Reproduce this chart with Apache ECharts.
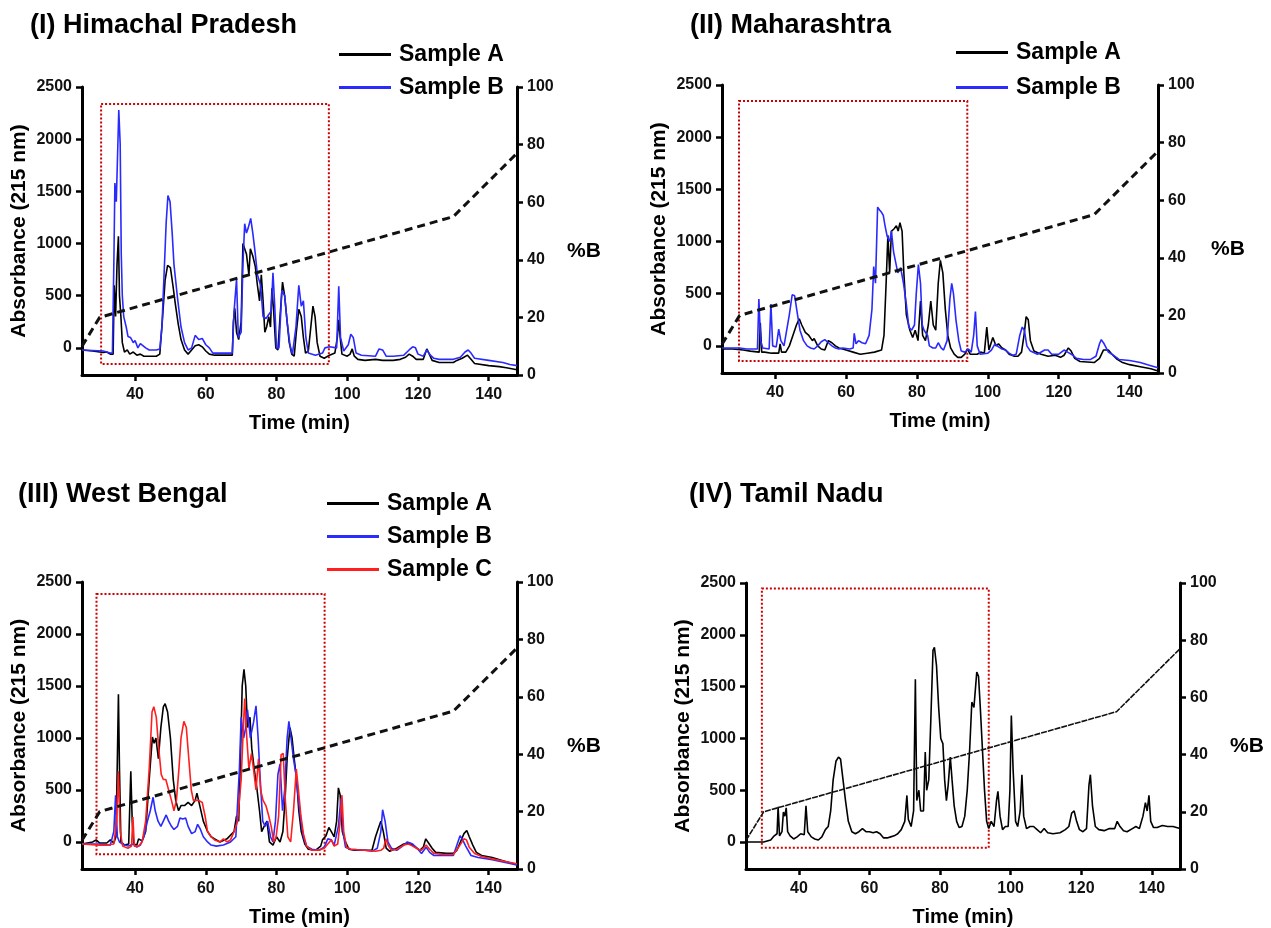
<!DOCTYPE html>
<html><head><meta charset="utf-8">
<script src="https://cdn.jsdelivr.net/npm/echarts@6/dist/echarts.min.js"></script>
<style>html,body{margin:0;padding:0;background:#fff}#c{width:1271px;height:928px}</style>
</head><body><div id="c"></div>
<script>
// ---- tick labels / axis settings ----
const xTicks = [40, 60, 80, 100, 120, 140];
const absTicks = [0, 500, 1000, 1500, 2000, 2500];
const pctTicks = [0, 20, 40, 60, 80, 100];
const panelTitles = ['(I) Himachal Pradesh', '(II) Maharashtra', '(III) West Bengal', '(IV) Tamil Nadu'];

// ---- gradient (%B) program: [time, %B] ----
const gradient = [[25, 10], [30, 20], [130, 55], [148, 77]];

// ---- highlighted region boxes: [tStart, tEnd, absLow, absHigh] ----
const boxI = [30.4, 94.8, -155, 2337];
const boxII = [29.8, 94.2, -145, 2347];
const boxIII = [29.1, 93.6, -118, 2385];
const boxIV = [29.5, 93.8, -55, 2446];

// ---- (I) Himachal Pradesh ----
const hpA = [[25,-20],[28,-30],[30,-40],[31,-45],[32,-40],[33,-60],[33.8,-60],[34.1,600],[34.5,300],[34.9,800],[35.3,1070],[35.6,500],[36,300],[36.4,50],[37,-40],[37.8,-20],[38.5,-60],[39.5,-40],[40.5,-70],[41.5,-60],[42.5,-80],[44,-80],[46,-80],[47,-60],[47.8,300],[48.5,650],[49.2,790],[50,770],[50.7,600],[51.4,420],[52.2,230],[53,80],[54,-20],[55,-60],[56,-20],[57,20],[58,30],[59,10],[60,-30],[61,-60],[62.5,-70],[65,-70],[67.5,-70],[67.8,250],[68.2,380],[68.7,150],[69.3,80],[70,250],[70.5,1000],[71,950],[71.5,900],[72.2,700],[72.6,950],[73.3,880],[74,780],[74.6,600],[75.2,450],[75.7,700],[76.2,450],[76.7,150],[77.2,200],[77.8,300],[78.3,200],[78.7,570],[79.2,350],[79.8,0],[80.4,-20],[81,300],[81.7,630],[82.3,500],[83,250],[83.6,50],[84.3,-60],[85,-80],[85.6,150],[86.3,370],[87,300],[87.6,100],[88.2,-50],[89,-30],[89.7,200],[90.3,400],[90.9,300],[91.5,50],[92.3,-80],[93.5,-100],[95,-70],[96.5,-50],[97.2,100],[97.6,270],[98,100],[98.5,-60],[100,-80],[100.8,-60],[101.4,-10],[102,-80],[103,-110],[105,-120],[108,-110],[110,-120],[113,-120],[115,-110],[116.5,-90],[117.5,-60],[118.5,-80],[119.5,-110],[121.5,-110],[122.5,-10],[123.2,-60],[124,-120],[126,-140],[130,-140],[131,-120],[132.5,-100],[134,-70],[135,-110],[136,-150],[140,-170],[143,-180],[145,-190],[148,-210]];
const hpB = [[25,-20],[28,-25],[31,-30],[32,-40],[33,-50],[33.6,-50],[34,800],[34.3,1580],[34.7,1400],[35.1,1900],[35.4,2280],[35.8,1950],[36.1,900],[36.4,500],[36.8,300],[37.5,200],[38,110],[38.7,100],[39.5,50],[40,70],[40.8,0],[41.5,40],[42,50],[43,0],[44,-20],[46,-20],[47,-10],[47.6,200],[48.2,700],[48.8,1200],[49.3,1460],[49.9,1400],[50.5,1100],[51,800],[52,480],[53,200],[54,50],[55,-20],[56,0],[57,120],[58,80],[59,90],[60,30],[61,0],[62,-50],[64,-50],[67.5,-50],[68,350],[68.7,660],[69.2,100],[70,150],[70.5,800],[71,1190],[71.5,1100],[72,1150],[72.7,1240],[73.3,1100],[74,900],[74.6,700],[75.5,600],[76.2,300],[77,280],[77.8,320],[78.5,350],[79,720],[79.5,400],[80,0],[80.7,0],[81.5,550],[82.3,500],[83,250],[83.8,30],[84.5,-60],[85.5,200],[86.3,600],[87,400],[87.6,450],[88.3,100],[89,-50],[91,-70],[93,-50],[93.7,0],[95,10],[97,0],[97.6,590],[98.1,100],[99,-30],[100.3,30],[101,130],[101.7,100],[102.5,-50],[104,-70],[108,-80],[109,-10],[110,-20],[111,-80],[113,-80],[116,-70],[117.5,-20],[118.5,10],[119.3,0],[120,-60],[121.5,-80],[122.5,-20],[123.5,-70],[124.5,-100],[126,-110],[130,-110],[132,-90],[133.3,-40],[134.2,-20],[135,-50],[136,-100],[140,-120],[144,-140],[146,-160],[148,-170]];

// ---- (II) Maharashtra ----
const mhA = [[25,-30],[28,-30],[31,-40],[33,-50],[35.5,-60],[35.8,220],[36.2,-60],[37,-60],[39,-70],[41,-70],[41.4,20],[41.8,-60],[43,-60],[44,0],[45,100],[46,200],[46.8,260],[47.5,200],[48.5,130],[49.5,100],[50.5,50],[51,70],[52,0],[53,-30],[54,-40],[55,50],[56,30],[57,0],[58,-20],[60,-40],[62,-60],[64,-80],[66,-70],[68,-60],[70,-40],[70.7,100],[71.3,600],[71.8,1060],[72.3,700],[72.8,1100],[73.5,1120],[74.2,1150],[74.7,1100],[75.2,1180],[75.8,1100],[76.3,700],[77,300],[78,150],[78.8,80],[79.5,150],[80.3,50],[81,430],[81.6,100],[82.4,50],[83.2,200],[83.9,430],[84.6,200],[85.3,150],[86,600],[86.6,820],[87.3,700],[88,350],[88.7,100],[89.5,-20],[90.5,-80],[91.5,-110],[92.5,-110],[93.5,-80],[94.3,-30],[95,-80],[97,-80],[98,-60],[99,-70],[99.7,180],[100.3,-40],[101.4,80],[102.3,0],[103,20],[104,-20],[105,-40],[106,-80],[107.5,-100],[108.5,-100],[109.5,-60],[110.2,100],[110.8,280],[111.4,250],[112,50],[113,-50],[115,-80],[117,-100],[119,-90],[120.5,-110],[121.5,-90],[122.7,-20],[123.5,-50],[124.5,-120],[126,-150],[130,-160],[131.5,-120],[132.6,-40],[134,-40],[135,-80],[136.5,-130],[138,-160],[140,-180],[143,-200],[146,-220],[148,-240]];
const mhB = [[25,-20],[30,-20],[32,-30],[35,-30],[35.4,450],[35.9,50],[36.5,-20],[38.3,-30],[38.8,400],[39.3,0],[40.3,-10],[41,160],[41.6,50],[42.5,0],[43,100],[44,300],[44.8,490],[45.5,480],[46.3,300],[47,150],[48,50],[49,0],[50,-20],[51,-30],[52,0],[53,40],[54,60],[55,30],[56,0],[57,-20],[58,-30],[59,-20],[61,-30],[62,-20],[62.3,120],[62.8,20],[63.5,50],[64.5,30],[65.5,20],[66.5,100],[67.3,350],[67.8,760],[68.3,600],[68.9,1330],[69.5,1300],[70,1280],[70.5,1250],[71,1150],[71.6,1050],[72.3,1000],[72.8,1100],[73.4,900],[74,800],[74.6,700],[75.4,750],[76.2,600],[77,400],[77.7,180],[78.5,150],[79.3,200],[79.8,500],[80.4,780],[81,600],[81.5,200],[82,150],[83,100],[83.5,0],[84.5,-20],[85.3,-20],[86,30],[86.8,-20],[87.5,-40],[88.5,50],[89.3,450],[89.8,600],[90.3,500],[91,250],[91.8,50],[92.5,-50],[93.5,-60],[94.5,-30],[95.3,-60],[96,100],[96.5,330],[97,0],[97.8,-80],[100,-70],[101,-40],[102,20],[103,-10],[104,-30],[105,-40],[106,-70],[107,-90],[108,-80],[109,100],[109.7,180],[110.3,150],[111,0],[112,-50],[114,-80],[116,-40],[117,-40],[118,-80],[120,-80],[121.5,-40],[122.5,-60],[124,-90],[125,-120],[127,-130],[129,-130],[130.5,-100],[131.5,20],[132,60],[132.8,20],[134,-60],[135,-80],[137,-130],[140,-140],[143,-160],[146,-190],[148,-210]];

// ---- (III) West Bengal ----
const wbA = [[25,-20],[28,0],[29,20],[30,-10],[32,-10],[33,20],[34,-10],[34.6,50],[35,800],[35.3,1420],[35.6,700],[36,0],[37,-30],[38.2,-20],[38.8,680],[39.2,200],[39.6,-20],[40.5,-30],[41,30],[42,10],[43,100],[44,600],[44.9,1010],[45.4,950],[45.9,1000],[46.6,800],[47.3,1100],[48,1300],[48.5,1330],[49.2,1250],[50,1000],[50.8,600],[51.5,400],[52.3,300],[53,350],[54,350],[55,380],[56,350],[57,400],[57.5,470],[58.3,350],[59.3,200],[60.5,100],[61.5,50],[62.5,30],[64,0],[66,30],[68,100],[68.7,250],[69.3,200],[69.8,800],[70.3,1500],[70.8,1660],[71.3,1500],[71.8,1100],[72.5,1200],[73,900],[73.7,700],[74.5,500],[75.2,300],[75.8,100],[76.5,150],[77.3,200],[78,0],[79,-30],[80,50],[81,0],[81.8,100],[82.4,400],[83,800],[83.8,1100],[84.4,1000],[85,800],[85.7,600],[86.3,300],[87,100],[88,-20],[89,-70],[91,-80],[92.5,-40],[93,20],[94,60],[94.8,140],[95.5,100],[96.3,50],[97,200],[97.5,520],[98,450],[98.6,100],[99.5,0],[100.5,-70],[102,-80],[107,-80],[108,50],[109,150],[109.5,200],[110.2,100],[111,-60],[112,-90],[114,-60],[116,-20],[117.5,-10],[119,-40],[120.5,-80],[121.5,-50],[122.2,30],[123,-10],[124,-60],[125,-100],[128,-110],[130,-110],[131,-80],[132,0],[133,80],[133.8,110],[134.5,50],[135.5,-30],[136.5,-100],[138,-130],[141,-150],[144,-180],[148,-220]];
const wbB = [[25,-20],[30,-20],[33,-30],[34,100],[34.5,450],[35,50],[35.6,0],[36.5,-20],[38,-40],[39.5,-20],[40.5,-50],[41.5,-30],[42.5,50],[43.5,200],[44.3,300],[45.1,430],[45.7,300],[46.5,200],[47.3,150],[48,200],[48.8,260],[49.5,200],[50.3,150],[51,120],[52,150],[52.7,230],[53.5,220],[54.3,230],[55,150],[56,80],[57,100],[57.7,170],[58.5,120],[59.3,50],[60.5,0],[61.5,-30],[63,-40],[65,-30],[67,0],[68.5,50],[69.5,700],[70,1200],[70.7,1000],[71.3,1100],[71.8,1270],[72.6,1000],[73.5,1150],[74.2,1310],[74.8,1000],[75.4,600],[76.1,200],[76.8,150],[77.5,200],[78.3,50],[79,0],[79.7,200],[80.4,650],[81,750],[81.7,300],[82.3,500],[83,1000],[83.5,1160],[84.1,1000],[84.8,800],[85.5,650],[86.2,400],[86.9,200],[87.6,50],[88.5,-40],[90,-70],[92,-80],[93.5,-50],[94.5,30],[95.5,20],[96.3,-30],[97.5,150],[98.2,420],[98.8,100],[99.5,-50],[101,-70],[105,-80],[107,-90],[108.5,-60],[109.5,100],[110,310],[110.7,200],[111.5,0],[112.5,-60],[114,-80],[116,-30],[117,0],[118.5,-20],[120,-70],[121,-110],[122.3,-50],[123.3,-100],[124.5,-130],[127,-130],[130,-130],[131.3,0],[131.9,60],[132.5,30],[133.5,-40],[135,-130],[137,-150],[141,-170],[145,-200],[148,-220]];
const wbC = [[25,-20],[30,-30],[32,-30],[34,-20],[34.8,200],[35.3,680],[35.8,100],[36.5,-40],[38,-60],[39,-40],[39.4,240],[39.8,-40],[41,-40],[42,0],[43,200],[44,700],[44.8,1250],[45.3,1300],[46,1200],[46.7,900],[47.4,650],[48,600],[48.7,600],[49.5,500],[50.3,400],[51,300],[51.7,400],[52.4,700],[53,1000],[53.8,1160],[54.5,1100],[55.2,800],[55.9,500],[56.5,400],[57.2,400],[58,400],[59,380],[59.8,250],[60.5,100],[61.5,50],[62.5,20],[64,0],[65,30],[66,0],[67,20],[68,100],[69,200],[70,600],[70.5,1000],[71,1380],[71.6,1000],[72.2,700],[72.9,850],[73.5,700],[74.2,500],[74.9,800],[75.5,500],[76.2,400],[77,350],[77.8,250],[78.5,150],[79.2,0],[79.9,50],[80.6,250],[81.3,840],[81.9,850],[82.5,400],[83.2,50],[84,0],[84.8,300],[85.6,700],[86.2,500],[86.9,250],[87.6,80],[88.5,-40],[90,-80],[92,-80],[93.5,-60],[94.5,-20],[95.5,20],[96.3,-40],[97.3,-20],[98,200],[98.5,450],[99,100],[99.8,-50],[101,-70],[105,-80],[108,-90],[109.5,-80],[110.3,-60],[110.9,30],[111.7,-40],[112.5,-80],[114,-70],[116,-30],[117.3,-20],[118.5,-40],[120,-70],[121,-80],[122.3,-30],[123.3,-70],[124.5,-110],[127,-120],[130,-120],[131.5,-50],[133,30],[133.7,20],[134.5,-50],[136,-110],[138,-140],[142,-170],[145,-190],[148,-210]];

// ---- (IV) Tamil Nadu ----
const tnA = [[25,0],[28,0],[30,0],[31,10],[32,20],[33,60],[33.8,80],[34.1,340],[34.5,60],[35.2,100],[35.6,290],[36,250],[36.4,330],[36.8,100],[37.5,60],[38.5,30],[39.5,50],[40.5,80],[41.5,70],[42,350],[42.5,100],[43.5,50],[44.5,30],[45.5,20],[46.5,50],[47.5,120],[48.3,150],[49,300],[49.7,600],[50.5,780],[51.2,820],[51.8,800],[52.5,600],[53.2,400],[54,200],[55,100],[56,80],[57,100],[58,130],[59,100],[60,100],[61,90],[62,100],[63,80],[64,40],[65,40],[66,50],[67,60],[68,80],[69,120],[70,200],[70.6,450],[71,220],[71.8,150],[72.5,300],[73,1570],[73.4,400],[74,500],[74.5,300],[75.3,300],[75.8,870],[76.2,500],[76.8,600],[77.4,1200],[78,1850],[78.4,1880],[79,1700],[79.6,1300],[80.2,1000],[80.8,950],[81.3,600],[81.8,400],[82.3,550],[82.9,820],[83.4,600],[84,350],[84.7,200],[85.4,140],[86.2,150],[87,250],[87.7,500],[88.4,900],[89,1350],[89.6,1300],[90.4,1640],[90.9,1600],[91.4,1300],[92,900],[92.6,500],[93.2,200],[93.8,130],[94.5,200],[95.3,150],[96,400],[96.4,490],[97,250],[97.7,120],[98.5,150],[99.3,150],[99.8,500],[100.2,1220],[100.7,700],[101.4,200],[102,150],[102.7,300],[103.2,650],[103.7,250],[104.5,130],[105.5,150],[106.5,150],[107.5,120],[108.5,90],[109.5,130],[110.5,90],[112,80],[114,90],[115.5,120],[116.5,150],[117.3,280],[118,300],[118.7,200],[119.5,120],[120.5,100],[121.5,130],[122.2,550],[122.6,650],[123.2,350],[124,150],[125,120],[126.5,110],[128,130],[129.5,130],[130.2,200],[131,150],[132,110],[133,100],[134.5,130],[135.5,150],[136.5,130],[137.5,250],[138.2,380],[138.7,300],[139.2,450],[139.7,200],[140.5,140],[141.5,140],[143,160],[144.5,150],[146,150],[148,130]];

// ---- build chart ----
const FF = 'Liberation Sans, Arial, Helvetica, sans-serif';
const BLACK = '#000000', BLUE = '#2a2aff', RED = '#ff1f1f';
const grids = [
  {left: 82, top: 87, width: 435, height: 288},
  {left: 722, top: 85, width: 436, height: 288},
  {left: 82, top: 582, width: 435, height: 289},
  {left: 746, top: 583, width: 434, height: 288}
];
const axLine = {show: true, onZero: false, lineStyle: {color: BLACK, width: 3}};
const tickStyle = {color: BLACK, width: 2.5};
const lbl = {fontFamily: FF, fontWeight: 'bold', fontSize: 16, color: '#111', formatter: v => String(v)};

const xAxes = [], yAxes = [];
grids.forEach((g, i) => {
  xAxes.push({type: 'value', gridIndex: i, min: 25, max: 148,
    name: 'Time (min)', nameLocation: 'middle', nameGap: 38,
    nameTextStyle: {fontFamily: FF, fontWeight: 'bold', fontSize: 20, color: BLACK},
    axisLine: axLine, splitLine: {show: false},
    axisTick: {show: true, length: 6, lineStyle: tickStyle, customValues: xTicks},
    axisLabel: Object.assign({margin: 12, customValues: xTicks}, lbl)});
  yAxes.push({type: 'value', gridIndex: i, min: -260, max: 2500, position: 'left',
    name: 'Absorbance (215 nm)', nameLocation: 'middle', nameGap: 52,
    nameTextStyle: {fontFamily: FF, fontWeight: 'bold', fontSize: 21, color: BLACK},
    axisLine: axLine, splitLine: {show: false},
    axisTick: {show: true, length: 6, lineStyle: tickStyle, customValues: absTicks},
    axisLabel: Object.assign({margin: 10, customValues: absTicks}, lbl)});
  yAxes.push({type: 'value', gridIndex: i, min: 0, max: 100, position: 'right',
    axisLine: axLine, splitLine: {show: false},
    axisTick: {show: true, length: 6, lineStyle: tickStyle, customValues: pctTicks},
    axisLabel: Object.assign({margin: 10, customValues: pctTicks}, lbl)});
});

function box(b) {
  return {silent: true, itemStyle: {color: 'rgba(0,0,0,0)', borderColor: '#cc0000', borderWidth: 2, borderType: [2, 2]},
    data: [[{coord: [b[0], b[3]]}, {coord: [b[1], b[2]]}]]};
}
function trace(name, data, color, gi, mark) {
  const s = {type: 'line', name: name, data: data, xAxisIndex: gi, yAxisIndex: gi * 2,
    symbol: 'none', lineStyle: {color: color, width: 1.6}, itemStyle: {color: color}, z: 3};
  if (mark) s.markArea = box(mark);
  return s;
}
function grad(gi, dashed) {
  return {type: 'line', name: '%B gradient ' + gi, data: gradient, xAxisIndex: gi, yAxisIndex: gi * 2 + 1,
    symbol: 'none', z: 4,
    lineStyle: dashed ? {color: '#111', width: 3, type: [8, 5]} : {color: '#111', width: 1.6, type: [6, 1]}};
}

const series = [
  trace('Sample A', hpA, BLACK, 0, boxI), trace('Sample B', hpB, BLUE, 0), grad(0, true),
  trace('Sample A', mhA, BLACK, 1, boxII), trace('Sample B', mhB, BLUE, 1), grad(1, true),
  trace('Sample A', wbA, BLACK, 2, boxIII), trace('Sample B', wbB, BLUE, 2), trace('Sample C', wbC, RED, 2), grad(2, true),
  trace('Sample A', tnA, BLACK, 3, boxIV), grad(3, false)
];

const legendBase = {orient: 'vertical', icon: 'rect', itemWidth: 52, itemHeight: 3, padding: 0,
  textStyle: {fontFamily: FF, fontWeight: 'bold', fontSize: 23, color: BLACK, padding: [0, 0, 0, 3]}, selectedMode: false};
const titlePos = [[30, 12], [690, 12], [18, 481], [689, 481]];
const pctPos = [[567, 241], [1211, 239], [567, 736], [1230, 736]];

const titles = panelTitles.map((t, i) => ({text: t, left: titlePos[i][0], top: titlePos[i][1], padding: 0,
  textStyle: {fontFamily: FF, fontWeight: 'bold', fontSize: 27, color: BLACK}}));
pctPos.forEach(p => titles.push({text: '%B', left: p[0], top: p[1], padding: 0,
  textStyle: {fontFamily: FF, fontWeight: 'bold', fontSize: 21, color: BLACK}}));

const option = {
  animation: false,
  backgroundColor: '#ffffff',
  title: titles,
  legend: [
    Object.assign({data: ['Sample A', 'Sample B'], left: 339, top: 43, itemGap: 10}, legendBase),
    Object.assign({data: ['Sample A', 'Sample B'], left: 956, top: 41, itemGap: 12}, legendBase),
    Object.assign({data: ['Sample A', 'Sample B', 'Sample C'], left: 327, top: 492, itemGap: 10}, legendBase)
  ],
  grid: grids,
  xAxis: xAxes,
  yAxis: yAxes,
  series: series
};
const chart = echarts.init(document.getElementById('c'), null, {renderer: 'canvas'});
chart.setOption(option);
</script></body></html>
